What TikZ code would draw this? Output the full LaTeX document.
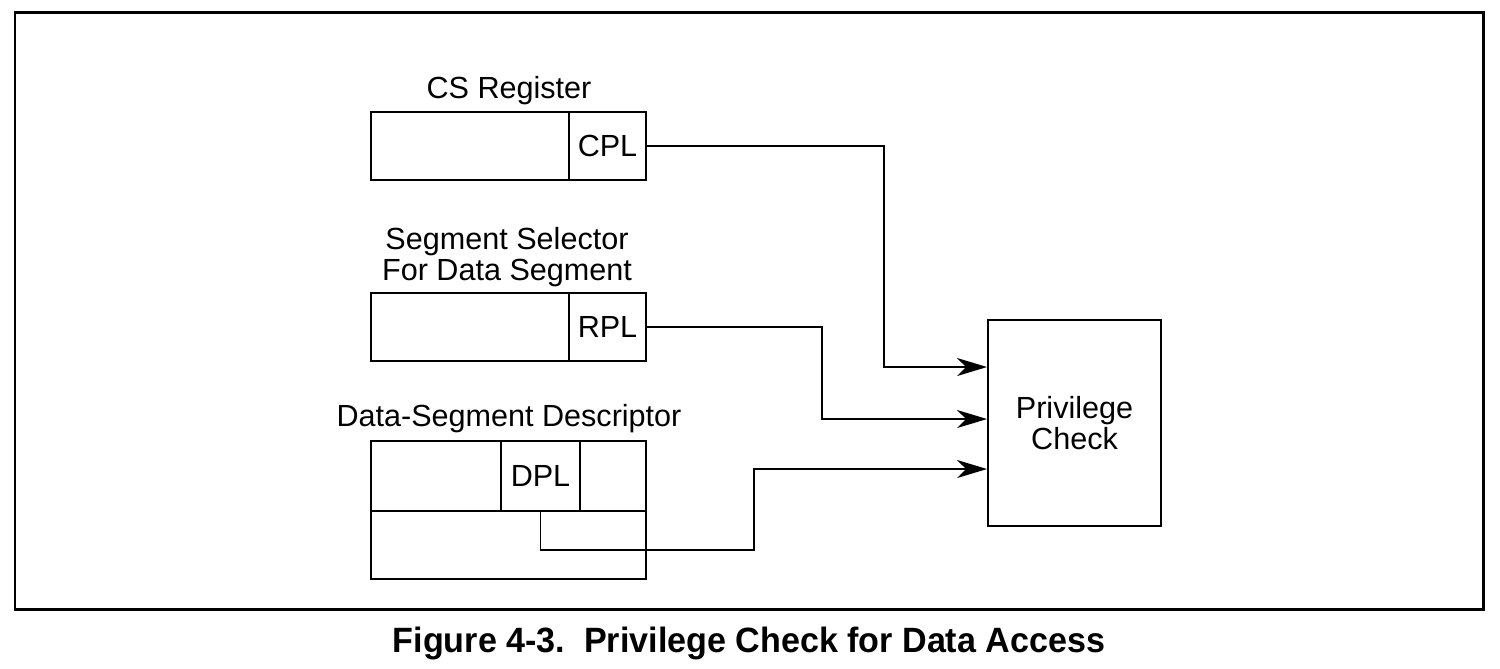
\documentclass[tikz,border=0pt]{standalone}
\usepackage{fontspec}
\setmainfont{Liberation Sans}
\usetikzlibrary{arrows.meta}

\begin{document}
\begin{tikzpicture}[
    x=0.1mm, y=-0.1mm,
    every node/.style={inner sep=0pt, font=\fontsize{8.7}{8.8}\selectfont},
    field/.style={draw, line width=.55pt, minimum height=6.8mm},
    link/.style={line width=.55pt},
    feed/.style={link, -{Stealth[length=3mm, width=1.8mm, inset=.9mm]}}]
      \useasboundingbox (0,0) rectangle (1500,668);
      \draw[line width=.85pt] (15,12) rectangle (1483,609);

      % CS register
      \node (cscs) at (509,91) {CS Register};
      \node[field, minimum width=19.8mm] (csbody) at (470,146) {};
      \node[field, minimum width=7.7mm] (cpl) at (607.5,146) {CPL};

      % segment selector
      \node[align=center] (sellabel) at (507,257) {Segment Selector\\For Data Segment};
      \node[field, minimum width=19.8mm] (selbody) at (470,327) {};
      \node[field, minimum width=7.7mm] (rpl) at (607.5,327) {RPL};

      % data-segment descriptor
      \node (desclabel) at (509,419) {Data-Segment Descriptor};
      \node[field, minimum width=13mm, minimum height=7mm] (dhigh) at (436,476) {};
      \node[field, minimum width=7.9mm, minimum height=7mm] (dpl) at (540.5,476) {DPL};
      \node[field, minimum width=6.6mm, minimum height=7mm] (dend) at (613,476) {};
      \node[field, minimum width=27.5mm] (dlow) at (508.5,545) {};

      % privilege check
      \node[field, minimum width=17.3mm, minimum height=20.6mm, align=center] (check) at (1074.5,423) {Privilege\\Check};

      \draw[feed] (cpl.east) -- (884,146) |- (check.west |- 0,367);
      \draw[feed] (rpl.east) -- (822,327) |- (check.west |- 0,419);
      \draw[feed] (dpl.south) |- (754,550) |- (check.west |- 0,469);

      \node[font=\fontsize{10}{12}\selectfont\bfseries] (caption) at (749,643)
        {\scalebox{0.97}[1]{Figure 4-3.\ \ Privilege Check for Data Access}};

    \end{tikzpicture}
\end{document}
